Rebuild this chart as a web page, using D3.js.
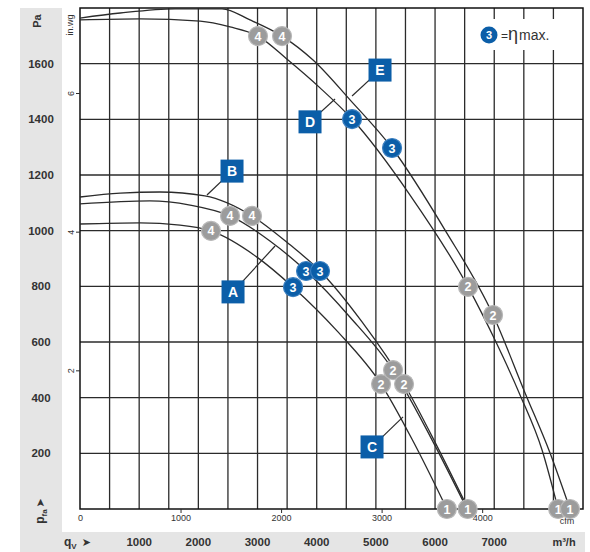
<!DOCTYPE html>
<html>
<head>
<meta charset="utf-8">
<script src="https://cdn.jsdelivr.net/npm/d3@7"></script>
<style>
  body { margin: 0; background: #fff; }
  svg { display: block; }
</style>
</head>
<body>
<div id="chart"></div>
<script>
// axis ticks
const flowTicks = [1000, 2000, 3000, 4000, 5000, 6000, 7000];   // m³/h
const paTicks = [200, 400, 600, 800, 1000, 1200, 1400, 1600];
const cfmTicks = [0, 1000, 2000, 3000, 4000];
const inwgTicks = [2, 4, 6];

// fan curves, q in m³/h, p in Pa
const qA = [0, 1180, 1860, 2535, 3210, 3820, 4560, 5290, 5915, 6540];
const pA = [1096, 1107, 1092, 1053, 963, 855, 690, 499, 262, 0];

const qB = [0, 680, 1350, 2110, 2907, 3550, 4056, 4766, 5476, 6033, 6560];
const pB = [1121, 1135, 1139, 1125, 1053, 949, 855, 672, 449, 226, 0];

const qC = [0, 1010, 1690, 2214, 2990, 3600, 4343, 5087, 5645, 6200];
const pC = [1024, 1028, 1020, 999, 905, 797, 640, 449, 237, 0];

const qD = [0, 1010, 2030, 2535, 3008, 3515, 4056, 4597, 5577, 6557, 7013, 7436, 7808, 8080];
const pD = [1757, 1761, 1753, 1732, 1699, 1613, 1513, 1401, 1128, 798, 607, 410, 212, 0];

const qE = [0, 680, 1606, 2400, 2873, 3414, 3938, 4563, 5273, 6169, 6980, 7521, 7943, 8280];
const pE = [1764, 1782, 1797, 1797, 1757, 1699, 1613, 1470, 1297, 1002, 697, 417, 201, 0];

// operating points (A and B share the same free-blowing point)
const grayQ = [2214, 2535, 2907, 5087, 5290, 5476, 6200, 6550, 3008, 3414, 6557, 6980, 8080, 8280];
const grayP = [999, 1053, 1053, 449, 499, 449, 0, 0, 1699, 1699, 798, 697, 0, 0];
const grayN = ['4', '4', '4', '2', '2', '2', '1', '1', '4', '4', '2', '2', '1', '1'];

const blueQ = [3600, 3820, 4056, 4597, 5273];
const blueP = [797, 855, 855, 1401, 1297];
const blueN = ['3', '3', '3', '3', '3'];

// curve tags: box centre and leader end
const tagNames = ['A', 'B', 'C', 'D', 'E'];
const tagQ = [2586, 2569, 4935, 3887, 5070];
const tagP = [780, 1214, 223, 1391, 1577];
const tagToQ = [3296, 2146, 5459, 4310, 4597];
const tagToP = [945, 1128, 331, 1473, 1484];

const W = 590, H = 552;
const plotL = 80, plotR = 583, plotT = 8, plotB = 509;
const font = 'Liberation Sans, Arial, sans-serif';
const ink = '#2b2b2b';
const blue = '#0b5ea8';

const x = d3.scaleLinear().domain([0, 8500]).range([plotL, plotR]);
const y = d3.scaleLinear().domain([0, 1800]).range([plotB, plotT]);
const xCfm = d3.scaleLinear().domain([0, 8500 / 1.699]).range([plotL, plotR]);
const yIn = d3.scaleLinear().domain([0, 1800 / 249.1]).range([plotB, plotT]);

const svg = d3.select('#chart').append('svg')
  .attr('width', W).attr('height', H);

// grey bands behind the main scales
svg.append('rect').attr('x', 20).attr('y', plotT).attr('width', 42).attr('height', H - plotT).attr('fill', '#e5e5e5');
svg.append('rect').attr('x', 62).attr('y', 532).attr('width', 523).attr('height', H - 532).attr('fill', '#e5e5e5');

// grid
const grid = svg.append('g').attr('stroke', ink).attr('stroke-width', 1.3);
grid.selectAll('line.v').data(d3.range(500, 8500, 500)).enter().append('line')
  .attr('x1', d => x(d)).attr('x2', d => x(d)).attr('y1', plotT).attr('y2', plotB);
grid.selectAll('line.h').data(paTicks).enter().append('line')
  .attr('x1', plotL).attr('x2', plotR).attr('y1', d => y(d)).attr('y2', d => y(d));

// legend background covers the grid
svg.append('rect').attr('x', 470).attr('y', 19).attr('width', 108).attr('height', 31).attr('fill', '#fff');

svg.append('rect').attr('x', plotL).attr('y', plotT).attr('width', plotR - plotL).attr('height', plotB - plotT)
  .attr('fill', 'none').attr('stroke', '#111').attr('stroke-width', 1.5);

// Pa labels
svg.append('g').selectAll('text').data(paTicks).enter().append('text')
  .attr('x', 41).attr('y', d => y(d)).attr('dy', '0.35em')
  .attr('text-anchor', 'middle').attr('font-family', font).attr('font-weight', 'bold')
  .attr('font-size', '11.5px').attr('fill', '#333').text(d => d);

// m³/h labels
svg.append('g').selectAll('text').data(flowTicks).enter().append('text')
  .attr('x', d => x(d)).attr('y', 546)
  .attr('text-anchor', 'middle').attr('font-family', font).attr('font-weight', 'bold')
  .attr('font-size', '11.5px').attr('fill', '#333').text(d => d);
svg.append('text').attr('x', 564).attr('y', 546).attr('text-anchor', 'middle')
  .attr('font-family', font).attr('font-weight', 'bold').attr('font-size', '11px').attr('fill', '#333')
  .text('m³/h');

// cfm axis along the bottom edge
const cfmAxis = svg.append('g').attr('transform', `translate(0,${plotB})`)
  .call(d3.axisBottom(xCfm).tickValues(cfmTicks).tickFormat(d3.format('d')).tickSize(4).tickPadding(2));
cfmAxis.select('.domain').remove();
cfmAxis.selectAll('line').attr('stroke', ink);
cfmAxis.selectAll('text').attr('font-family', font).attr('font-size', '9px').attr('fill', '#333');
cfmAxis.selectAll('.tick').filter(d => d === 0).select('line').remove();
svg.append('text').attr('x', 567).attr('y', 524).attr('text-anchor', 'middle')
  .attr('font-family', font).attr('font-size', '9px').attr('fill', '#333').text('cfm');

// in.wg axis along the left edge
const inAxis = svg.append('g').attr('transform', `translate(${plotL},0)`)
  .call(d3.axisLeft(yIn).tickValues(inwgTicks).tickSize(4).tickPadding(2));
inAxis.select('.domain').remove();
inAxis.selectAll('line').attr('stroke', ink);
inAxis.selectAll('text').attr('font-family', font).attr('font-size', '9px').attr('fill', '#333')
  .attr('text-anchor', 'middle').attr('x', -9).attr('dy', '0.35em')
  .attr('transform', 'rotate(-90,-9,0)');
svg.append('text').attr('transform', 'translate(73,25) rotate(-90)').attr('text-anchor', 'middle')
  .attr('font-family', font).attr('font-size', '9px').attr('fill', '#333').text('in.wg');

svg.append('text').attr('transform', 'translate(41,21) rotate(-90)').attr('text-anchor', 'middle')
  .attr('font-family', font).attr('font-weight', 'bold').attr('font-size', '11px').attr('fill', '#333')
  .text('Pa');

// pfa and qv axis captions
const pfa = svg.append('text').attr('transform', 'translate(44,511) rotate(-90)').attr('text-anchor', 'middle')
  .attr('font-family', font).attr('font-weight', 'bold').attr('font-size', '12px').attr('fill', '#333');
pfa.append('tspan').text('p');
pfa.append('tspan').attr('font-size', '8px').attr('dy', 3).text('fa');
pfa.append('tspan').attr('font-family', 'DejaVu Sans').attr('font-size', '11px').attr('dy', -3).attr('dx', 2).text('➤');

const qv = svg.append('text').attr('x', 64).attr('y', 546)
  .attr('font-family', font).attr('font-weight', 'bold').attr('font-size', '12px').attr('fill', '#333');
qv.append('tspan').text('q');
qv.append('tspan').attr('font-size', '8px').attr('dy', 3).text('V');
qv.append('tspan').attr('font-family', 'DejaVu Sans').attr('font-size', '11px').attr('dy', -3).attr('dx', 5).text('➤');

// curves
const line = d3.line().x(d => x(d[0])).y(d => y(d[1])).curve(d3.curveMonotoneX);
const curves = [[qA, pA], [qB, pB], [qC, pC], [qD, pD], [qE, pE]];
svg.append('g').selectAll('path').data(curves).enter().append('path')
  .attr('d', c => line(d3.zip(c[0], c[1])))
  .attr('fill', 'none').attr('stroke', ink).attr('stroke-width', 1.3);

// tags with leader lines
const tags = tagNames.map((n, i) => ({ n, q: tagQ[i], p: tagP[i], q2: tagToQ[i], p2: tagToP[i] }));
const tagG = svg.append('g');
tagG.selectAll('line').data(tags).enter().append('line')
  .attr('x1', d => x(d.q)).attr('y1', d => y(d.p)).attr('x2', d => x(d.q2)).attr('y2', d => y(d.p2))
  .attr('stroke', ink).attr('stroke-width', 1.2);
const tagBox = tagG.selectAll('g').data(tags).enter().append('g')
  .attr('transform', d => `translate(${x(d.q)},${y(d.p)})`);
tagBox.append('rect').attr('x', -11.5).attr('y', -11.5).attr('width', 23).attr('height', 23).attr('fill', blue);
tagBox.append('text').attr('text-anchor', 'middle').attr('dy', '0.36em')
  .attr('font-family', font).attr('font-weight', 'bold').attr('font-size', '14px').attr('fill', '#fff')
  .text(d => d.n);

// operating point markers
function markers(qs, ps, ns, fill, rim) {
  const g = svg.append('g').selectAll('g').data(qs.map((q, i) => ({ q, p: ps[i], n: ns[i] })))
    .enter().append('g').attr('transform', d => `translate(${x(d.q)},${y(d.p)})`);
  g.append('circle').attr('r', 9.5).attr('fill', fill).attr('stroke', rim).attr('stroke-width', 1.2);
  g.append('text').attr('text-anchor', 'middle').attr('dy', '0.36em')
    .attr('font-family', font).attr('font-weight', 'bold').attr('font-size', '12.5px').attr('fill', '#fff')
    .text(d => d.n);
}
markers(grayQ, grayP, grayN, '#9c9c9c', '#b8b8b8');
markers(blueQ, blueP, blueN, blue, '#3a7fc0');

// legend
const lg = svg.append('g').attr('transform', 'translate(489,35)');
lg.append('circle').attr('r', 8.5).attr('fill', blue);
lg.append('text').attr('text-anchor', 'middle').attr('dy', '0.36em')
  .attr('font-family', font).attr('font-weight', 'bold').attr('font-size', '11px').attr('fill', '#fff').text('3');
const lt = svg.append('text').attr('x', 501).attr('y', 40)
  .attr('font-family', font).attr('fill', '#333');
lt.append('tspan').attr('font-size', '12px').text('=');
lt.append('tspan').attr('font-size', '18px').text('η');
lt.append('tspan').attr('font-size', '14px').attr('dx', 1).text('max.');
</script>
</body>
</html>
